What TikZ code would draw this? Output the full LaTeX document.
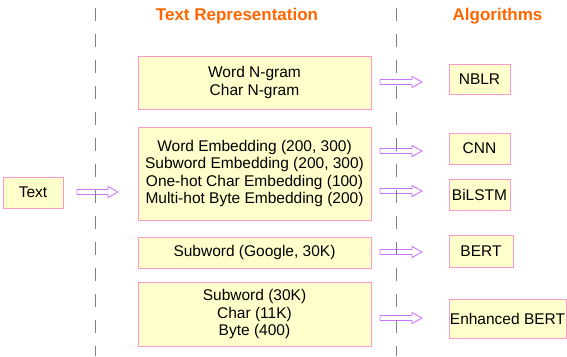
\documentclass[tikz,border=0pt]{standalone}
\usepackage{fontspec}
\setmainfont{Liberation Sans}
\usetikzlibrary{calc}
\definecolor{boxfill}{HTML}{FFFFCC}
\definecolor{boxline}{HTML}{FF99CC}
\definecolor{arrc}{HTML}{CC77FF}
\definecolor{titlec}{HTML}{FF6600}
\definecolor{dashc}{HTML}{808080}
\tikzset{
  repbox/.style={draw=boxline, fill=boxfill, line width=0.9pt, inner sep=0pt,
    align=center, font=\fontsize{15.5}{17.5}\selectfont},
  titletext/.style={text=titlec, font=\fontsize{17}{20}\selectfont\bfseries, inner sep=0pt},
  sepline/.style={draw=dashc, line width=1pt, dash pattern=on 13pt off 13pt},
  blockarr/.style={draw=arrc, fill=white, line width=0.9pt,
    to path={let \p1=(\tikztostart), \p2=(\tikztotarget) in
      (\x1,\y1+2.5pt) -- (\x2-10pt,\y1+2.5pt) -- (\x2-10pt,\y1+5.5pt) -- (\x2,\y1)
      -- (\x2-10pt,\y1-5.5pt) -- (\x2-10pt,\y1-2.5pt) -- (\x1,\y1-2.5pt) -- cycle}}
}
\begin{document}
\begin{tikzpicture}[x=1pt,y=-1pt]
\useasboundingbox (0,0) rectangle (567,356);
% titles
\node[titletext] (t1) at (237,16) {Text Representation};
\node[titletext] (t2) at (497.5,16) {Algorithms};
% boxes
\node[repbox, minimum width=60pt, minimum height=31pt] (txt) at (33,192.5) {Text};
\node[repbox, minimum width=233pt, minimum height=53pt] (b1) at (254.5,82.5) {Word N-gram\\Char N-gram};
\node[repbox, minimum width=233pt, minimum height=93pt] (b2) at (254.5,173.5)
  {Word Embedding (200, 300)\\Subword Embedding (200, 300)\\One-hot Char Embedding (100)\\Multi-hot Byte Embedding (200)};
\node[repbox, minimum width=233pt, minimum height=31pt] (b3) at (254.5,252.5) {Subword (Google, 30K)};
\node[repbox, minimum width=233pt, minimum height=64pt] (b4) at (254.5,314) {Subword (30K)\\Char (11K)\\Byte (400)};
\node[repbox, minimum width=61pt, minimum height=30pt] (nblr) at (479.5,79.5) {NBLR};
\node[repbox, minimum width=61pt, minimum height=31pt] (cnn) at (479.5,148.5) {CNN};
\node[repbox, minimum width=61pt, minimum height=31pt] (bilstm) at (479.5,194.5) {BiLSTM};
\node[repbox, minimum width=64pt, minimum height=32pt] (bert) at (481,251) {BERT};
\node[repbox, minimum width=117pt, minimum height=39pt] (ebert) at (507.5,318.5) {Enhanced BERT};
% arrow end points
\coordinate (a0s) at (77,192); \coordinate (a0e) at (118,192);
\coordinate (a1s) at (380,82); \coordinate (a1e) at (422,82);
\coordinate (a2s) at (380,151); \coordinate (a2e) at (422,151);
\coordinate (a3s) at (380,191); \coordinate (a3e) at (422,191);
\coordinate (a4s) at (380,252); \coordinate (a4e) at (422,252);
\coordinate (a5s) at (380,318); \coordinate (a5e) at (422,318);
\draw[blockarr] (a0s) to (a0e);
\draw[blockarr] (a1s) to (a1e);
\draw[blockarr] (a2s) to (a2e);
\draw[blockarr] (a3s) to (a3e);
\draw[blockarr] (a4s) to (a4e);
\draw[blockarr] (a5s) to (a5e);
% dashed separators
\coordinate (s1t) at (95,8); \coordinate (s1b) at (95,356);
\coordinate (s2t) at (396,8); \coordinate (s2b) at (396,356);
\draw[sepline] (s1t) -- (s1b);
\draw[sepline] (s2t) -- (s2b);
\end{tikzpicture}
\end{document}
